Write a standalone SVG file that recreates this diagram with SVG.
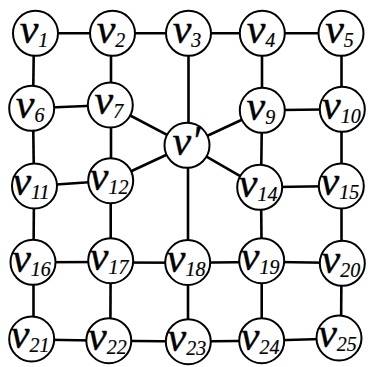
<svg xmlns="http://www.w3.org/2000/svg" width="368" height="367" viewBox="0 0 368 367">
<style>
.edge{stroke:#000;stroke-width:2.6;fill:none}
.node circle{fill:#fff;stroke:#000;stroke-width:2}
.node text{font-family:"Liberation Serif","Times New Roman",serif;font-style:italic;font-size:42px;fill:#000;stroke:#000;stroke-width:0.4;text-anchor:middle}
.node tspan.s{font-size:20px;stroke-width:0.2}
</style>
<rect width="368" height="367" fill="#fff"/>
<g id="connectors" class="edge">
<line x1="35.5" y1="33.3" x2="112.5" y2="33.3"/>
<line x1="112.5" y1="33.3" x2="188.5" y2="33.3"/>
<line x1="188.5" y1="33.3" x2="262.3" y2="33.3"/>
<line x1="262.3" y1="33.3" x2="341" y2="33.3"/>
<line x1="31.7" y1="108.3" x2="110.3" y2="105"/>
<line x1="262.3" y1="110.3" x2="342.3" y2="109.3"/>
<line x1="34.5" y1="186" x2="110.7" y2="180.7"/>
<line x1="259.7" y1="187.3" x2="341.3" y2="186"/>
<line x1="33" y1="262.3" x2="110.7" y2="262"/>
<line x1="110.7" y1="262.5" x2="187.7" y2="262.8"/>
<line x1="187.7" y1="262.8" x2="261.7" y2="262"/>
<line x1="261.7" y1="261.7" x2="342.3" y2="263"/>
<line x1="31.7" y1="339.5" x2="108.8" y2="340.7"/>
<line x1="108.8" y1="340.7" x2="188.3" y2="341.5"/>
<line x1="188.3" y1="341.5" x2="261.7" y2="340.7"/>
<line x1="261.7" y1="340.7" x2="339" y2="338.5"/>
<line x1="34" y1="33.3" x2="33" y2="108.3"/>
<line x1="33" y1="108.3" x2="34" y2="186"/>
<line x1="34" y1="186" x2="33.5" y2="262.3"/>
<line x1="33.5" y1="262.3" x2="33.5" y2="339"/>
<line x1="111" y1="33.3" x2="111" y2="105"/>
<line x1="111" y1="105" x2="111" y2="180.7"/>
<line x1="110.7" y1="180.7" x2="110.7" y2="260.7"/>
<line x1="110.7" y1="260.7" x2="110.3" y2="340.7"/>
<line x1="188.5" y1="33.3" x2="188.5" y2="145.3"/>
<line x1="188" y1="145.3" x2="188" y2="262.5"/>
<line x1="188" y1="262.5" x2="188" y2="341.7"/>
<line x1="262" y1="33.3" x2="262" y2="110.3"/>
<line x1="262" y1="110.3" x2="261" y2="187.3"/>
<line x1="261" y1="187.3" x2="261.7" y2="260.7"/>
<line x1="261.7" y1="260.7" x2="261.7" y2="340.7"/>
<line x1="341.5" y1="33.3" x2="341.5" y2="109.3"/>
<line x1="341.5" y1="109.3" x2="341.5" y2="186"/>
<line x1="341.5" y1="186" x2="341.5" y2="263.3"/>
<line x1="341.5" y1="263.3" x2="341" y2="338"/>
<line x1="110.3" y1="105" x2="187" y2="145.3"/>
<line x1="110.7" y1="180.7" x2="187" y2="145.3"/>
<line x1="262.3" y1="110.3" x2="187" y2="145.3"/>
<line x1="259.7" y1="187.3" x2="187" y2="145.3"/>
</g>
<g id="v1" class="node"><circle cx="35.5" cy="33.3" r="22.5"/><text x="34" y="42.7">v<tspan class="s" dy="4">1</tspan></text></g>
<g id="v2" class="node"><circle cx="112.5" cy="33.3" r="22.5"/><text x="111" y="42.7">v<tspan class="s" dy="4">2</tspan></text></g>
<g id="v3" class="node"><circle cx="188.5" cy="33.3" r="22.5"/><text x="187" y="42.7">v<tspan class="s" dy="4">3</tspan></text></g>
<g id="v4" class="node"><circle cx="262.3" cy="33.3" r="22.5"/><text x="261" y="42.7">v<tspan class="s" dy="4">4</tspan></text></g>
<g id="v5" class="node"><circle cx="341" cy="33.3" r="22.5"/><text x="339.5" y="42.7">v<tspan class="s" dy="4">5</tspan></text></g>
<g id="v6" class="node"><circle cx="31.7" cy="108.3" r="22.5"/><text x="30.2" y="117.7">v<tspan class="s" dy="4">6</tspan></text></g>
<g id="v7" class="node"><circle cx="110.3" cy="105" r="22.5"/><text x="108.8" y="114.4">v<tspan class="s" dy="4">7</tspan></text></g>
<g id="v9" class="node"><circle cx="262.3" cy="110.3" r="22.5"/><text x="260.8" y="119.7">v<tspan class="s" dy="4">9</tspan></text></g>
<g id="v10" class="node"><circle cx="342.3" cy="109.3" r="22.5"/><text x="341.3" y="118.7">v<tspan class="s" dy="4">10</tspan></text></g>
<g id="vprime" class="node"><circle cx="187" cy="145.3" r="22.5"/><text x="186.5" y="155.3">v′</text></g>
<g id="v11" class="node"><circle cx="34.5" cy="186" r="22.5"/><text x="31" y="195.4">v<tspan class="s" dy="4">11</tspan></text></g>
<g id="v12" class="node"><circle cx="110.7" cy="180.7" r="22.5"/><text x="109.2" y="190.1">v<tspan class="s" dy="4">12</tspan></text></g>
<g id="v14" class="node"><circle cx="259.7" cy="187.3" r="22.5"/><text x="258.2" y="196.7">v<tspan class="s" dy="4">14</tspan></text></g>
<g id="v15" class="node"><circle cx="341.3" cy="186" r="22.5"/><text x="339.8" y="195.4">v<tspan class="s" dy="4">15</tspan></text></g>
<g id="v16" class="node"><circle cx="33" cy="262.3" r="22.5"/><text x="31.5" y="271.7">v<tspan class="s" dy="4">16</tspan></text></g>
<g id="v17" class="node"><circle cx="110.7" cy="260.7" r="22.5"/><text x="109.2" y="270.1">v<tspan class="s" dy="4">17</tspan></text></g>
<g id="v18" class="node"><circle cx="187.7" cy="262.5" r="22.5"/><text x="186.2" y="271.9">v<tspan class="s" dy="4">18</tspan></text></g>
<g id="v19" class="node"><circle cx="261.7" cy="260.7" r="22.5"/><text x="260.2" y="270.1">v<tspan class="s" dy="4">19</tspan></text></g>
<g id="v20" class="node"><circle cx="342.3" cy="263.3" r="22.5"/><text x="340.8" y="272.7">v<tspan class="s" dy="4">20</tspan></text></g>
<g id="v21" class="node"><circle cx="31.7" cy="339" r="22.5"/><text x="30.2" y="348.4">v<tspan class="s" dy="4">21</tspan></text></g>
<g id="v22" class="node"><circle cx="108.8" cy="340.7" r="22.5"/><text x="107.3" y="350.1">v<tspan class="s" dy="4">22</tspan></text></g>
<g id="v23" class="node"><circle cx="188.3" cy="341.7" r="22.5"/><text x="186.8" y="351.1">v<tspan class="s" dy="4">23</tspan></text></g>
<g id="v24" class="node"><circle cx="261.7" cy="340.7" r="22.5"/><text x="260.2" y="350.1">v<tspan class="s" dy="4">24</tspan></text></g>
<g id="v25" class="node"><circle cx="339" cy="338" r="22.5"/><text x="337.5" y="347.4">v<tspan class="s" dy="4">25</tspan></text></g>
</svg>
